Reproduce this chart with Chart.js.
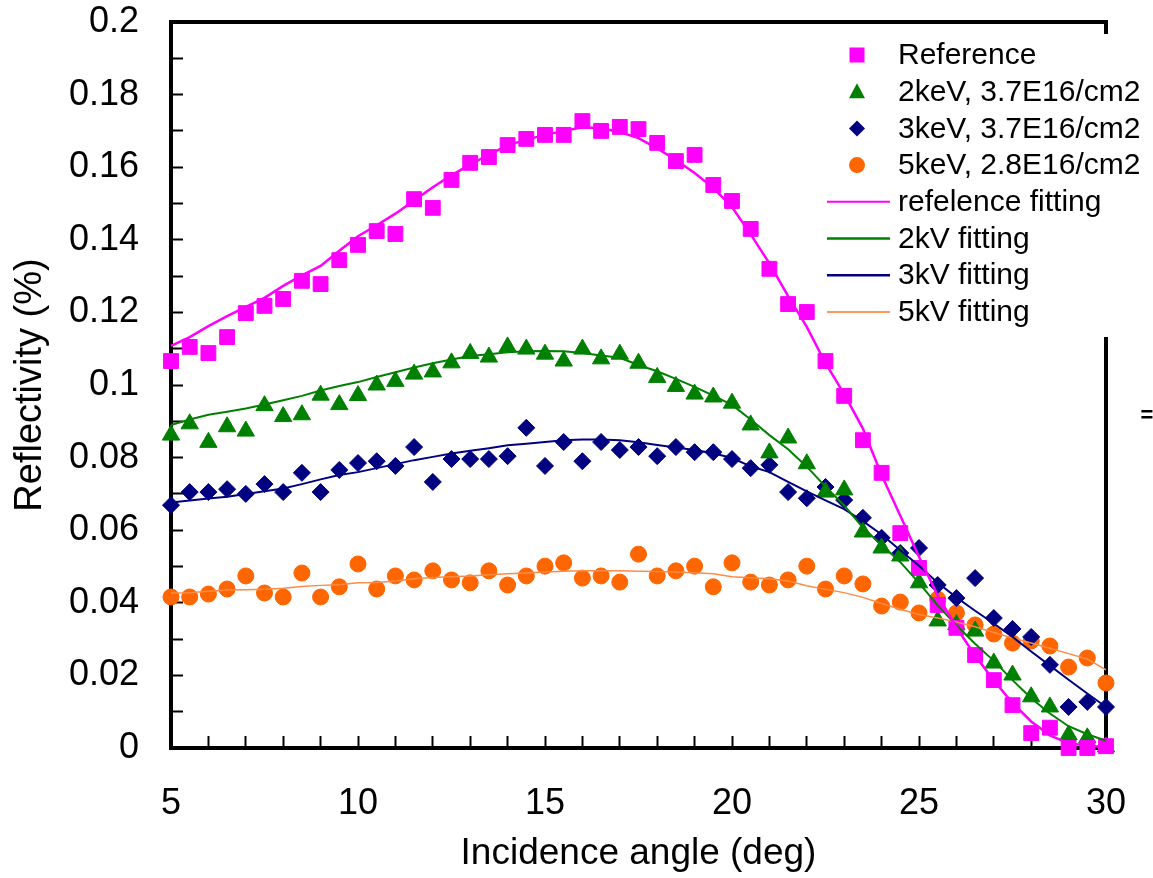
<!DOCTYPE html>
<html>
<head>
<meta charset="utf-8">
<script src="https://cdn.jsdelivr.net/npm/chart.js@4.4.0/dist/chart.umd.min.js"></script>
<style>
html,body{margin:0;padding:0;background:#fff;}
#wrap{width:1153px;height:878px;position:relative;}
</style>
</head>
<body>
<div id="wrap"><canvas id="c"></canvas></div>
<script>
const angles = [5,5.5,6,6.5,7,7.5,8,8.5,9,9.5,10,10.5,11,11.5,12,12.5,13,13.5,14,14.5,15,15.5,16,16.5,17,17.5,18,18.5,19,19.5,20,20.5,21,21.5,22,22.5,23,23.5,24,24.5,25,25.5,26,26.5,27,27.5,28,28.5,29,29.5,30];

const refData = [0.1066,0.1105,0.1088,0.1132,0.1198,0.1218,0.1237,0.1287,0.1278,0.1344,0.1386,0.1424,0.1416,0.1512,0.1488,0.1565,0.1612,0.1628,0.1661,0.1678,0.1689,0.1689,0.1727,0.1700,0.1711,0.1705,0.1667,0.1617,0.1634,0.1551,0.1507,0.1430,0.1320,0.1223,0.1201,0.1066,0.0970,0.0848,0.0758,0.0592,0.0496,0.0394,0.0331,0.0256,0.0187,0.0118,0.0041,0.0056,0.0000,0.0000,0.0005];
const kev2Data = [0.0862,0.0893,0.0842,0.0885,0.0873,0.0943,0.0913,0.0918,0.0972,0.0946,0.0971,0.1000,0.1010,0.1030,0.1036,0.1061,0.1087,0.1077,0.1105,0.1099,0.1085,0.1066,0.1099,0.1072,0.1085,0.1060,0.1021,0.0996,0.0975,0.0967,0.0950,0.0890,0.0813,0.0854,0.0783,0.0705,0.0711,0.0595,0.0551,0.0529,0.0455,0.0350,0.0340,0.0322,0.0234,0.0201,0.0141,0.0113,0.0036,0.0028,0.0003];
const kev3Data = [0.0669,0.0705,0.0705,0.0713,0.0700,0.0727,0.0705,0.0758,0.0705,0.0766,0.0785,0.0790,0.0777,0.0829,0.0733,0.0796,0.0796,0.0796,0.0804,0.0882,0.0777,0.0843,0.0790,0.0843,0.0821,0.0829,0.0804,0.0829,0.0815,0.0815,0.0796,0.0771,0.0780,0.0705,0.0688,0.0719,0.0683,0.0634,0.0579,0.0537,0.0551,0.0449,0.0413,0.0468,0.0358,0.0328,0.0306,0.0229,0.0113,0.0127,0.0113];
const kev5Data = [0.0416,0.0416,0.0424,0.0438,0.0474,0.0427,0.0416,0.0482,0.0416,0.0444,0.0507,0.0438,0.0474,0.0463,0.0488,0.0463,0.0455,0.0488,0.0449,0.0474,0.0501,0.0510,0.0468,0.0474,0.0457,0.0534,0.0474,0.0488,0.0501,0.0444,0.0510,0.0457,0.0449,0.0463,0.0501,0.0438,0.0474,0.0452,0.0391,0.0402,0.0372,0.0410,0.0372,0.0339,0.0314,0.0289,0.0295,0.0281,0.0223,0.0248,0.0179];

const refFit = [0.1108,0.1132,0.1162,0.1190,0.1215,0.1240,0.1273,0.1302,0.1328,0.1370,0.1410,0.1440,0.1472,0.1508,0.1545,0.1578,0.1607,0.1635,0.1660,0.1676,0.1689,0.1700,0.1710,0.1707,0.1697,0.1680,0.1652,0.1620,0.1584,0.1543,0.1490,0.1415,0.1335,0.1245,0.1160,0.1060,0.0975,0.0880,0.0752,0.0640,0.0527,0.0420,0.0332,0.0255,0.0186,0.0124,0.0073,0.0035,0.0013,0.0006,0.0003];
const fit2kV = [0.0890,0.0905,0.0918,0.0926,0.0935,0.0946,0.0958,0.0970,0.0985,0.0997,0.1008,0.1022,0.1035,0.1048,0.1060,0.1070,0.1080,0.1085,0.1090,0.1093,0.1094,0.1093,0.1088,0.1081,0.1075,0.1055,0.1038,0.1017,0.0995,0.0971,0.0945,0.0905,0.0862,0.0823,0.0775,0.0720,0.0668,0.0607,0.0560,0.0512,0.0455,0.0393,0.0338,0.0287,0.0240,0.0187,0.0137,0.0095,0.0060,0.0038,0.0020];
const fit3kV = [0.0676,0.0682,0.0687,0.0692,0.0700,0.0707,0.0715,0.0727,0.0740,0.0752,0.0760,0.0771,0.0782,0.0793,0.0802,0.0811,0.0819,0.0826,0.0834,0.0838,0.0843,0.0848,0.0850,0.0850,0.0848,0.0842,0.0835,0.0828,0.0821,0.0812,0.0799,0.0776,0.0760,0.0733,0.0707,0.0682,0.0658,0.0625,0.0588,0.0545,0.0502,0.0455,0.0415,0.0378,0.0343,0.0306,0.0266,0.0227,0.0188,0.0150,0.0113];
const fit5kV = [0.0427,0.0428,0.0432,0.0435,0.0436,0.0437,0.0440,0.0445,0.0448,0.0450,0.0455,0.0456,0.0460,0.0466,0.0470,0.0472,0.0474,0.0477,0.0480,0.0482,0.0485,0.0487,0.0488,0.0488,0.0488,0.0487,0.0486,0.0485,0.0483,0.0480,0.0472,0.0469,0.0466,0.0460,0.0447,0.0437,0.0428,0.0415,0.0398,0.0382,0.0368,0.0358,0.0347,0.0334,0.0318,0.0303,0.0289,0.0275,0.0260,0.0245,0.0215];

const xTickLabels = [5,10,15,20,25,30];
const yTickLabels = ['0','0.02','0.04','0.06','0.08','0.1','0.12','0.14','0.16','0.18','0.2'];

const seriesNames = ['Reference','2keV, 3.7E16/cm2','3keV, 3.7E16/cm2','5keV, 2.8E16/cm2','refelence fitting','2kV fitting','3kV fitting','5kV fitting'];

const FONT = "'Liberation Sans', Arial, sans-serif";
const C_REF = '#FF00FF', C_2 = '#008000', C_3 = '#000080', C_5 = '#FF6600', C_5L = '#FF9A5C';

const pts = arr => angles.map((a, i) => ({x: a, y: arr[i]}));

function markerDs(label, arr, color, style, r) {
  return {label, data: pts(arr), showLine: false, pointStyle: style, pointRadius: r,
    pointBackgroundColor: color, pointBorderColor: color, pointBorderWidth: 1, backgroundColor: color, borderColor: color, clip: false, order: 1};
}
function fitDs(label, arr, color, w) {
  return {label, data: pts(arr), showLine: true, pointRadius: 0, borderColor: color, backgroundColor: color, borderWidth: w, tension: 0, fill: false, clip: false, order: 0};
}

const legendItems = [
  {kind: 'rect', color: C_REF}, {kind: 'triangle', color: C_2}, {kind: 'rectRot', color: C_3}, {kind: 'circle', color: C_5},
  {kind: 'line', color: C_REF, w: 2}, {kind: 'line', color: C_2, w: 2.5}, {kind: 'line', color: C_3, w: 2.5}, {kind: 'line', color: C_5L, w: 2}
];

const framePlugin = {
  id: 'frame',
  beforeDatasetsDraw(chart) {
    const {ctx, chartArea: a} = chart;
    ctx.save();
    ctx.strokeStyle = '#000'; ctx.lineWidth = 4;
    ctx.beginPath();
    ctx.moveTo(a.left - 2, a.top); ctx.lineTo(a.right, a.top); ctx.lineTo(a.right, a.bottom + 2);
    ctx.stroke();
    ctx.restore();
  },
  afterDraw(chart) {
    const ctx = chart.ctx;
    ctx.save();
    ctx.fillStyle = '#fff';
    ctx.fillRect(821, 34, 300, 303);
    const x0 = 857, tx = 898, y0 = 55, dy = 36.7;
    ctx.font = '30px ' + FONT;
    ctx.textBaseline = 'middle';
    ctx.textAlign = 'left';
    legendItems.forEach((it, i) => {
      const cy = y0 + i * dy;
      ctx.fillStyle = it.color; ctx.strokeStyle = it.color;
      if (it.kind === 'rect') {
        ctx.fillRect(x0 - 7.5, cy - 7.5, 15, 15);
      } else if (it.kind === 'triangle') {
        ctx.beginPath(); ctx.moveTo(x0, cy - 8.5); ctx.lineTo(x0 + 8, cy + 6.5); ctx.lineTo(x0 - 8, cy + 6.5); ctx.closePath(); ctx.fill();
      } else if (it.kind === 'rectRot') {
        ctx.beginPath(); ctx.moveTo(x0, cy - 8); ctx.lineTo(x0 + 8, cy); ctx.lineTo(x0, cy + 8); ctx.lineTo(x0 - 8, cy); ctx.closePath(); ctx.fill();
      } else if (it.kind === 'circle') {
        ctx.beginPath(); ctx.arc(x0, cy, 8, 0, Math.PI * 2); ctx.fill();
      } else {
        ctx.lineWidth = it.w; ctx.beginPath(); ctx.moveTo(827, cy); ctx.lineTo(890, cy); ctx.stroke();
      }
      ctx.fillStyle = '#000';
      ctx.fillText(seriesNames[i], tx, cy + 1);
    });
    ctx.font = 'bold 22px ' + FONT;
    ctx.textAlign = 'center';
    ctx.fillText('=', 1147, 416);
    ctx.restore();
  }
};

new Chart(document.getElementById('c'), {
  type: 'scatter',
  data: {
    datasets: [
      markerDs(seriesNames[0], refData, C_REF, 'rect', 10.5),
      markerDs(seriesNames[1], kev2Data, C_2, 'triangle', 10),
      markerDs(seriesNames[2], kev3Data, C_3, 'rectRot', 8.5),
      markerDs(seriesNames[3], kev5Data, C_5, 'circle', 8),
      fitDs(seriesNames[4], refFit, C_REF, 2.5),
      fitDs(seriesNames[5], fit2kV, C_2, 2),
      fitDs(seriesNames[6], fit3kV, C_3, 2),
      fitDs(seriesNames[7], fit5kV, '#FF8A45', 1.5)
    ]
  },
  options: {
    responsive: true,
    maintainAspectRatio: false,
    animation: false,
    layout: {padding: {top: 22, right: 47, left: 0, bottom: 0}},
    plugins: {legend: {display: false}, tooltip: {enabled: false}},
    scales: {
      x: {
        type: 'linear', position: 'bottom', min: 5, max: 30,
        ticks: {stepSize: 1, autoSkip: false, maxRotation: 0, padding: 46, color: '#000',
          font: {family: FONT, size: 36},
          callback: v => xTickLabels.includes(v) ? String(v) : ''},
        grid: {display: true, drawOnChartArea: false, drawTicks: true, tickLength: -12, tickColor: '#000', tickWidth: 2, color: '#000'},
        border: {display: true, color: '#000', width: 4},
        title: {display: true, text: 'Incidence angle (deg)', color: '#000', font: {family: FONT, size: 37}, padding: {top: 0, bottom: 2}},
        afterFit: s => { s.height = 130; s.paddingLeft = 0; s.paddingRight = 0; }
      },
      y: {
        type: 'linear', position: 'left', min: 0, max: 0.2,
        ticks: {stepSize: 0.01, autoSkip: false, padding: 44, color: '#000',
          font: {family: FONT, size: 36},
          callback: v => { const k = Math.round(v * 100); return k % 2 === 0 ? yTickLabels[k / 2] : ''; }},
        grid: {display: true, drawOnChartArea: false, drawTicks: true, tickLength: -12, tickColor: '#000', tickWidth: 2, color: '#000'},
        border: {display: true, color: '#000', width: 4},
        title: {display: true, text: 'Reflectivity (%)', color: '#000', font: {family: FONT, size: 38}, padding: {top: 8, bottom: 0}},
        afterFit: s => { s.width = 171; s.paddingTop = 0; s.paddingBottom = 0; }
      }
    }
  },
  plugins: [framePlugin]
});
</script>
</body>
</html>
